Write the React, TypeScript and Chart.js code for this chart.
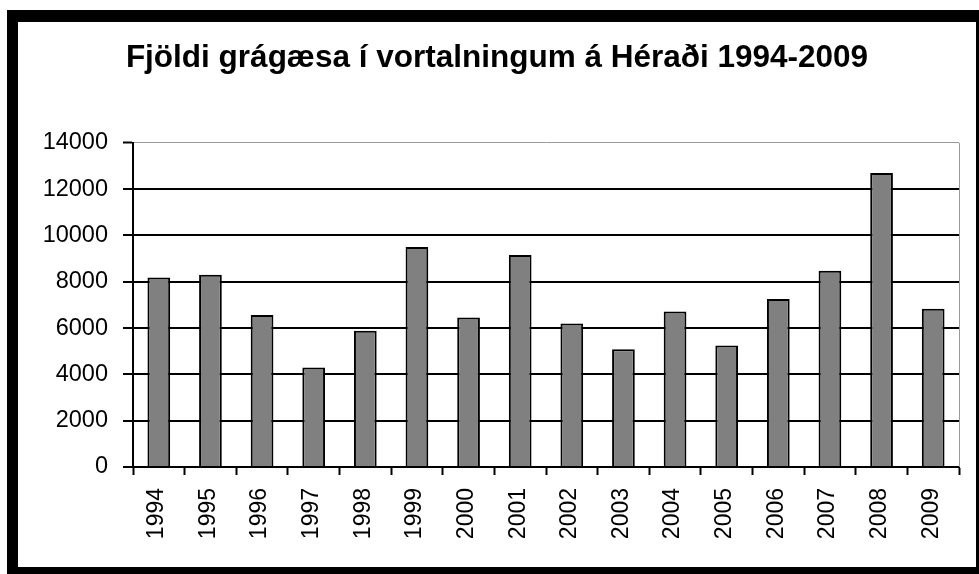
import React, { useEffect, useRef } from "react";
import { Chart, registerables } from "chart.js";

Chart.register(...registerables);

const TITLE = "Fjöldi grágæsa í vortalningum á Héraði 1994-2009";
const years = ["1994", "1995", "1996", "1997", "1998", "1999", "2000", "2001", "2002", "2003", "2004", "2005", "2006", "2007", "2008", "2009"];
const counts = [8180, 8300, 6560, 4300, 5880, 9500, 6460, 9150, 6200, 5080, 6720, 5250, 7250, 8470, 12700, 6830];
const yTicks = [0, 2000, 4000, 6000, 8000, 10000, 12000, 14000];

const FONT = "'Liberation Sans', Arial, sans-serif";

const plotFrame = {
  id: "plotFrame",
  afterDatasetsDraw(chart: any) {
    const { ctx, chartArea } = chart;
    ctx.save();
    ctx.strokeStyle = "#9a9a9a";
    ctx.lineWidth = 1;
    ctx.beginPath();
    ctx.moveTo(Math.round(chartArea.right) + 0.5, chartArea.top);
    ctx.lineTo(Math.round(chartArea.right) + 0.5, chartArea.bottom);
    ctx.stroke();
    ctx.restore();
  },
};

export default function App() {
  const ref = useRef<HTMLCanvasElement | null>(null);

  useEffect(() => {
    if (!ref.current) return;
    const topTick = yTicks[yTicks.length - 1];
    const chart = new Chart(ref.current, {
      type: "bar",
      data: {
        labels: years,
        datasets: [
          {
            data: counts,
            backgroundColor: "#808080",
            borderColor: "#000000",
            borderWidth: 2,
            categoryPercentage: 1,
            barPercentage: 0.44,
          },
        ],
      },
      options: {
        responsive: false,
        animation: false,
        layout: { padding: 0 },
        plugins: {
          legend: { display: false },
          tooltip: { enabled: false },
          title: {
            display: true,
            text: TITLE,
            color: "#000",
            font: { family: FONT, size: 31.5, weight: "bold", lineHeight: 1.2 },
            padding: { top: 17, bottom: 66 },
          },
        },
        scales: {
          x: {
            afterFit: (s: any) => {
              s.height = 100;
            },
            grid: {
              display: true,
              drawOnChartArea: false,
              drawTicks: true,
              tickLength: 8,
              tickColor: "#000",
              tickWidth: 2,
              offset: true,
            },
            border: { display: true, color: "#000", width: 2 },
            ticks: {
              autoSkip: false,
              minRotation: 90,
              maxRotation: 90,
              padding: 13,
              labelOffset: -2,
              color: "#000",
              font: { family: FONT, size: 23 },
            },
          },
          y: {
            min: yTicks[0],
            max: topTick,
            afterFit: (s: any) => {
              s.width = 115;
            },
            grid: {
              color: (c: any) => (c.tick && c.tick.value === topTick ? "#9a9a9a" : "#000"),
              lineWidth: (c: any) => (c.tick && c.tick.value === topTick ? 1 : 2),
              tickLength: 10,
              tickColor: "#000",
              tickWidth: 2,
            },
            border: { display: true, color: "#000", width: 2 },
            ticks: {
              stepSize: yTicks[1] - yTicks[0],
              padding: 15,
              color: "#000",
              font: { family: FONT, size: 23.5 },
              callback: (v: any) => String(v),
            },
          },
          yRightSpace: {
            type: "linear",
            position: "right",
            display: true,
            afterFit: (s: any) => {
              s.width = 17;
            },
            grid: { display: false, drawTicks: false },
            border: { display: false },
            ticks: { display: false },
          },
        },
      },
      plugins: [plotFrame],
    });
    return () => chart.destroy();
  }, []);

  return (
    <div
      style={{
        position: "fixed",
        left: 7,
        top: 10,
        width: 972,
        height: 564,
        boxSizing: "border-box",
        borderStyle: "solid",
        borderColor: "#000",
        borderLeftWidth: 11,
        borderTopWidth: 12,
        borderRightWidth: 3,
        borderBottomWidth: 7,
        background: "#fff",
      }}
    >
      <canvas ref={ref} width={958} height={545} style={{ display: "block", width: 958, height: 545 }} />
    </div>
  );
}
